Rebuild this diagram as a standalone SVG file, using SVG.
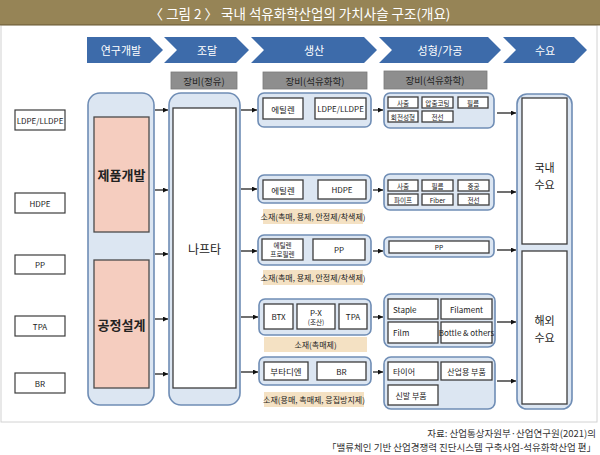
<svg xmlns="http://www.w3.org/2000/svg" width="600" height="455" viewBox="0 0 600 455">
<defs>
<marker id="ah" viewBox="0 0 6 6" refX="6" refY="3" markerWidth="5" markerHeight="5" orient="auto" markerUnits="userSpaceOnUse">
<path d="M0,0 L6,3 L0,6 z" fill="#111"/>
</marker>
<style>
text{font-family:"Noto Sans CJK KR","Noto Sans",sans-serif;fill:#222;text-anchor:middle;dominant-baseline:central}
.chev{fill:#3d6baa}
.chev-t{fill:#fff;font-size:11px}
.gray{fill:#8e8e8e;stroke:#7a7a7a;stroke-width:0.8}
.gray-t{fill:#1e1e1e;font-size:9.5px}
.pale{fill:#dce6f2;stroke:#6f8db5;stroke-width:1.6}
.inner{fill:#fff;stroke:#3c3c3c;stroke-width:1.3}
.left{fill:#fff;stroke:#3c3c3c;stroke-width:1.2}
.pink{fill:#f5cdbf;stroke:#4a4a4a;stroke-width:1.3}
.beige{fill:#f4e1c3}
.s{font-size:8px}
.xs{font-size:6.6px}
.m{font-size:8.5px}
.big{font-size:13px;font-weight:bold}
.mid{font-size:12px}
.dm{font-size:11px}
.lab{font-size:8px}
.src{text-anchor:end;font-size:9.5px;fill:#333}
.conn line{stroke:#111;stroke-width:1.2;marker-end:url(#ah)}
</style>
</defs>
<rect x="0" y="0" width="600" height="455" fill="#fff"/>
<rect x="1" y="25" width="596" height="397" fill="none" stroke="#d2d2d2" stroke-width="1"/>
<g id="title">
<rect x="0" y="0" width="600" height="25" fill="#968456"/>
<rect x="0" y="24" width="600" height="1.5" fill="#7d6c44"/>
<text x="300" y="13" style="fill:#fff;font-size:13.5px">〈 그림 2 〉 국내 석유화학산업의 가치사슬 구조(개요)</text>
</g>
<g id="stages">
<polygon class="chev" points="87,37 150,37 163,50 150,63 87,63"/>
<text class="chev-t" x="121" y="50">연구개발</text>
<polygon class="chev" points="164,37 236,37 249,50 236,63 164,63 177,50"/>
<text class="chev-t" x="207" y="50">조달</text>
<polygon class="chev" points="251,37 364,37 377,50 364,63 251,63 264,50"/>
<text class="chev-t" x="314" y="50">생산</text>
<polygon class="chev" points="379,37 488,37 501,50 488,63 379,63 392,50"/>
<text class="chev-t" x="440" y="50">성형/가공</text>
<polygon class="chev" points="503,37 574,37 587,50 574,63 503,63 516,50"/>
<text class="chev-t" x="545" y="50">수요</text>
</g>
<g id="equip">
<rect class="gray" x="171" y="72" width="66" height="17"/>
<text class="gray-t" x="204" y="80.5">장비(정유)</text>
<rect class="gray" x="263" y="72" width="104" height="17"/>
<text class="gray-t" x="315" y="80.5">장비(석유화학)</text>
<rect class="gray" x="384" y="71" width="103" height="18"/>
<text class="gray-t" x="435" y="80">장비(석유화학)</text>
</g>
<g id="products">
<rect class="left" x="15" y="110" width="50" height="20"/><text class="s" x="40" y="120">LDPE/LLDPE</text>
<rect class="left" x="15" y="193" width="50" height="20"/><text class="s" x="40" y="203">HDPE</text>
<rect class="left" x="15" y="255" width="50" height="19"/><text class="s" x="40" y="264.5">PP</text>
<rect class="left" x="15" y="316" width="50" height="20"/><text class="s" x="40" y="326">TPA</text>
<rect class="left" x="15" y="373" width="50" height="20"/><text class="s" x="40" y="383">BR</text>
</g>
<g id="rnd">
<rect class="pale" x="88" y="93" width="66" height="312" rx="12"/>
<rect class="pink" x="94" y="117" width="55" height="115"/>
<text class="big" x="121.5" y="174">제품개발</text>
<rect class="pink" x="94" y="260" width="55" height="128"/>
<text class="big" x="121.5" y="324">공정설계</text>
</g>
<g id="naphtha">
<rect class="pale" x="169" y="93" width="71" height="312" rx="12"/>
<rect class="inner" x="173" y="108" width="63" height="280"/>
<text class="mid" x="204.5" y="248">나프타</text>
</g>
<g id="prod1">
<rect class="pale" x="258" y="93" width="113" height="34" rx="6"/>
<rect class="inner" x="263" y="98" width="40" height="21"/><text class="m" x="283" y="108.5">에틸렌</text>
<rect class="inner" x="315" y="98" width="51" height="21"/><text class="s" x="340.5" y="108.5">LDPE/LLDPE</text>
</g>
<g id="prod2">
<rect class="pale" x="258" y="175" width="113" height="28" rx="6"/>
<rect class="inner" x="263" y="180" width="40" height="19"/><text class="m" x="283" y="189.5">에틸렌</text>
<rect class="inner" x="318" y="180" width="48" height="19"/><text class="s" x="342" y="189.5">HDPE</text>
<rect class="beige" x="263" y="209" width="100" height="15"/><text class="lab" x="313" y="216.5">소재(촉매, 용제, 안정제/착색제)</text>
</g>
<g id="prod3">
<rect class="pale" x="258" y="235" width="113" height="30" rx="6"/>
<rect class="inner" x="262" y="239" width="41" height="21"/>
<text class="xs" x="282.5" y="245">에틸렌</text><text class="xs" x="282.5" y="254">프로필렌</text>
<rect class="inner" x="313" y="239" width="52" height="21"/><text class="s" x="339" y="249.5">PP</text>
<rect class="beige" x="263" y="270" width="100" height="15"/><text class="lab" x="313" y="277.5">소재(촉매, 용제, 안정제/착색제)</text>
</g>
<g id="prod4">
<rect class="pale" x="259" y="299" width="112" height="36" rx="6"/>
<rect class="inner" x="264" y="304" width="29" height="25"/><text class="s" x="278.5" y="316.5">BTX</text>
<rect class="inner" x="297" y="304" width="38" height="25"/>
<text class="s" x="316" y="312">P-X</text><text class="xs" x="316" y="321.5">(조산)</text>
<rect class="inner" x="339" y="304" width="28" height="25"/><text class="s" x="353" y="316.5">TPA</text>
<rect class="beige" x="264" y="337" width="103" height="15"/><text class="lab" x="315.5" y="344.5">소재(촉매제)</text>
</g>
<g id="prod5">
<rect class="pale" x="259" y="357" width="112" height="28" rx="6"/>
<rect class="inner" x="264" y="362" width="44" height="18"/><text class="m" x="286" y="371">부타디엔</text>
<rect class="inner" x="317" y="362" width="49" height="18"/><text class="s" x="341.5" y="371">BR</text>
<rect class="beige" x="264" y="392" width="100" height="15"/><text class="lab" x="314" y="399.5">소재(용매, 촉매제, 응집방지제)</text>
</g>
<g id="proc1">
<rect class="pale" x="384" y="93" width="110" height="35" rx="6"/>
<rect class="inner" x="388" y="97" width="30" height="11"/><text class="xs" x="403" y="102.5">사출</text>
<rect class="inner" x="422" y="97" width="31" height="11"/><text class="xs" x="437.5" y="102.5">압출코팅</text>
<rect class="inner" x="458" y="97" width="30" height="11"/><text class="xs" x="473" y="102.5">필름</text>
<rect class="inner" x="388" y="111" width="30" height="11"/><text class="xs" x="403" y="116.5">회전성형</text>
<rect class="inner" x="422" y="111" width="31" height="11"/><text class="xs" x="437.5" y="116.5">전선</text>
</g>
<g id="proc2">
<rect class="pale" x="384" y="174" width="110" height="36" rx="6"/>
<rect class="inner" x="388" y="180" width="30" height="11"/><text class="xs" x="403" y="185.5">사출</text>
<rect class="inner" x="422" y="180" width="31" height="11"/><text class="xs" x="437.5" y="185.5">필름</text>
<rect class="inner" x="458" y="180" width="31" height="11"/><text class="xs" x="473.5" y="185.5">중공</text>
<rect class="inner" x="388" y="194" width="30" height="11"/><text class="xs" x="403" y="199.5">파이프</text>
<rect class="inner" x="422" y="194" width="31" height="11"/><text class="xs" x="437.5" y="199.5">Fiber</text>
<rect class="inner" x="458" y="194" width="31" height="11"/><text class="xs" x="473.5" y="199.5">전선</text>
</g>
<g id="proc3">
<rect class="pale" x="384" y="237" width="110" height="20" rx="5"/>
<rect class="inner" x="389" y="241" width="100" height="12"/><text class="xs" x="439" y="247">PP</text>
</g>
<g id="proc4">
<rect class="pale" x="384" y="294" width="111" height="53" rx="7"/>
<rect class="inner" x="388" y="299" width="50" height="20"/><text class="s" x="393" y="309" style="text-anchor:start">Staple</text>
<rect class="inner" x="441" y="299" width="51" height="20"/><text class="s" x="466.5" y="309">Filament</text>
<rect class="inner" x="388" y="322" width="50" height="21"/><text class="s" x="393" y="332.5" style="text-anchor:start">Film</text>
<rect class="inner" x="441" y="322" width="51" height="21"/><text class="s" x="466.5" y="332.5">Bottle &amp; others</text>
</g>
<g id="proc5">
<rect class="pale" x="384" y="357" width="111" height="52" rx="7"/>
<rect class="inner" x="388" y="362" width="50" height="18"/><text class="s" x="393" y="371" style="text-anchor:start">타이어</text>
<rect class="inner" x="441" y="362" width="51" height="18"/><text class="s" x="466.5" y="371">산업용 부품</text>
<rect class="inner" x="388" y="385" width="50" height="20"/><text class="s" x="411" y="395">신발 부품</text>
</g>
<g id="demand">
<rect class="pale" x="517" y="94" width="55" height="315" rx="10"/>
<rect class="inner" x="522" y="98" width="45" height="146"/>
<text class="dm" x="544.5" y="167">국내</text><text class="dm" x="544.5" y="184">수요</text>
<rect class="inner" x="522" y="251" width="45" height="153"/>
<text class="dm" x="544.5" y="320">해외</text><text class="dm" x="544.5" y="337">수요</text>
</g>
<g id="connectors" class="conn">
<line x1="155" y1="110" x2="168" y2="110"/>
<line x1="155" y1="190" x2="168" y2="190"/>
<line x1="155" y1="254" x2="168" y2="254"/>
<line x1="155" y1="319" x2="168" y2="319"/>
<line x1="155" y1="374" x2="168" y2="374"/>
<line x1="241" y1="110" x2="257" y2="110"/>
<line x1="241" y1="189" x2="257" y2="189"/>
<line x1="241" y1="251" x2="257" y2="251"/>
<line x1="241" y1="317" x2="258" y2="317"/>
<line x1="241" y1="372" x2="258" y2="372"/>
<line x1="373" y1="110" x2="383" y2="110"/>
<line x1="373" y1="190" x2="383" y2="190"/>
<line x1="373" y1="251" x2="383" y2="251"/>
<line x1="373" y1="317" x2="383" y2="317"/>
<line x1="373" y1="372" x2="383" y2="372"/>
<line x1="497" y1="113" x2="516" y2="113"/>
<line x1="497" y1="192" x2="516" y2="192"/>
<line x1="497" y1="250" x2="516" y2="250"/>
<line x1="497" y1="322" x2="516" y2="322"/>
<line x1="497" y1="381" x2="516" y2="381"/>
</g>
<g id="source">
<text class="src" x="596" y="433">자료: 산업통상자원부·산업연구원(2021)의</text>
<text class="src" x="596" y="447">「밸류체인 기반 산업경쟁력 진단시스템 구축사업-석유화학산업 편」</text>
</g>
</svg>
